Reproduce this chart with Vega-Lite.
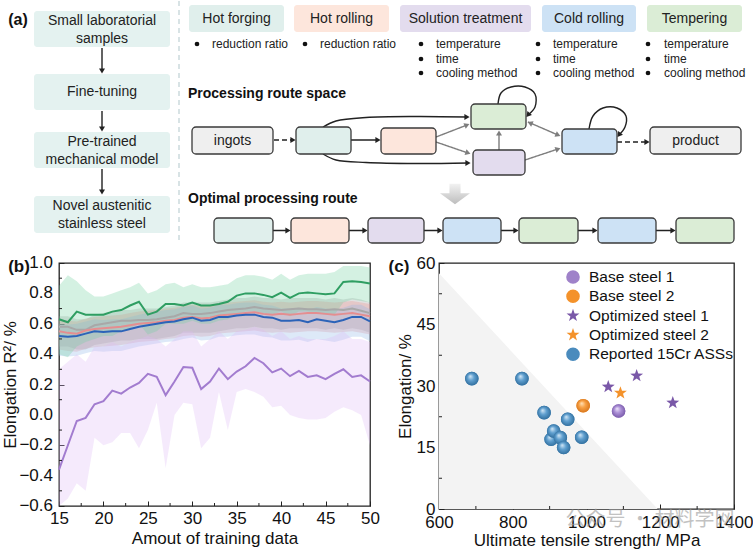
{
"$schema": "https://vega.github.io/schema/vega-lite/v6.json",
"padding": 0,
"background": "white",
"config": {
  "font": "Liberation Sans",
  "view": {"stroke": "#222222", "strokeWidth": 1.3},
  "axis": {"labelFontSize": 17, "titleFontSize": 17, "titleFontWeight": "normal", "labelColor": "#111111", "titleColor": "#111111", "tickColor": "#222222", "domain": false, "grid": false, "tickSize": -5, "labelPadding": 9, "labelFlush": false, "labelOverlap": false}
},
"resolve": {
  "scale": {"color": "independent", "fill": "independent", "stroke": "independent", "shape": "independent", "strokeDash": "independent", "fillOpacity": "independent", "strokeOpacity": "independent", "opacity": "independent", "size": "independent", "angle": "independent"},
  "legend": {"color": "independent", "fill": "independent", "stroke": "independent", "shape": "independent"}
},
"datasets": {
  "sep": [{"x": 178, "y1": 0, "y2": 243}],
  "lbox": [
    {"x1": 33, "x2": 169, "y1": 10, "y2": 46, "cx": 101, "cy": 19.5, "t": "Small laboratorial\nsamples", "s": "left"},
    {"x1": 33, "x2": 169, "y1": 73, "y2": 109, "cx": 101, "cy": 91, "t": "Fine-tuning", "s": "left"},
    {"x1": 33, "x2": 169, "y1": 131, "y2": 167, "cx": 101, "cy": 140.5, "t": "Pre-trained\nmechanical model", "s": "left"},
    {"x1": 33, "x2": 169, "y1": 195, "y2": 232, "cx": 101, "cy": 204.5, "t": "Novel austenitic\nstainless steel", "s": "left"}
  ],
  "hbox": [
    {"x1": 188, "x2": 283, "y1": 4, "y2": 31, "cx": 235.5, "cy": 17.5, "t": "Hot forging", "s": "forging"},
    {"x1": 293, "x2": 388, "y1": 4, "y2": 31, "cx": 340.5, "cy": 17.5, "t": "Hot rolling", "s": "rolling"},
    {"x1": 399, "x2": 530, "y1": 4, "y2": 31, "cx": 464.5, "cy": 17.5, "t": "Solution treatment", "s": "solution"},
    {"x1": 541, "x2": 635, "y1": 4, "y2": 31, "cx": 588, "cy": 17.5, "t": "Cold rolling", "s": "cold"},
    {"x1": 646, "x2": 741, "y1": 4, "y2": 31, "cx": 693.5, "cy": 17.5, "t": "Tempering", "s": "tempering"}
  ],
  "nbox": [
    {"x1": 191, "x2": 272, "y1": 126, "y2": 153, "cx": 231.5, "cy": 139.5, "t": "ingots", "s": "none"},
    {"x1": 295, "x2": 350, "y1": 126, "y2": 153, "s": "forging"},
    {"x1": 380, "x2": 435, "y1": 127, "y2": 153, "s": "rolling"},
    {"x1": 470, "x2": 525, "y1": 103, "y2": 128, "s": "tempering"},
    {"x1": 472, "x2": 524, "y1": 149, "y2": 174, "s": "solution"},
    {"x1": 561, "x2": 616, "y1": 128, "y2": 153, "s": "cold"},
    {"x1": 649, "x2": 740, "y1": 126, "y2": 153, "cx": 694.5, "cy": 139.5, "t": "product", "s": "none"},
    {"x1": 213, "x2": 272, "y1": 217, "y2": 242, "s": "forging"},
    {"x1": 290, "x2": 348, "y1": 217, "y2": 242, "s": "rolling"},
    {"x1": 367, "x2": 423, "y1": 217, "y2": 242, "s": "solution"},
    {"x1": 442, "x2": 500, "y1": 217, "y2": 242, "s": "cold"},
    {"x1": 518, "x2": 577, "y1": 217, "y2": 242, "s": "tempering"},
    {"x1": 597, "x2": 655, "y1": 217, "y2": 242, "s": "cold"},
    {"x1": 675, "x2": 733, "y1": 217, "y2": 242, "s": "tempering"}
  ],
  "segs": [
    {"x1": 101, "y1": 47, "x2": 101, "y2": 70, "k": "b"},
    {"x1": 101, "y1": 110, "x2": 101, "y2": 128, "k": "b"},
    {"x1": 101, "y1": 168, "x2": 101, "y2": 191, "k": "b"},
    {"x1": 273, "y1": 139, "x2": 291, "y2": 139, "k": "d"},
    {"x1": 350, "y1": 139, "x2": 376, "y2": 139, "k": "b"},
    {"x1": 435, "y1": 136, "x2": 466, "y2": 124, "k": "g"},
    {"x1": 435, "y1": 141, "x2": 467, "y2": 152, "k": "g"},
    {"x1": 498, "y1": 149, "x2": 498, "y2": 132, "k": "g"},
    {"x1": 524, "y1": 159, "x2": 557, "y2": 148, "k": "g"},
    {"x1": 527, "y1": 121, "x2": 557, "y2": 134, "k": "g"},
    {"x1": 616, "y1": 141, "x2": 645, "y2": 141, "k": "d"},
    {"x1": 272, "y1": 229.5, "x2": 286, "y2": 229.5, "k": "b"},
    {"x1": 348, "y1": 229.5, "x2": 363, "y2": 229.5, "k": "b"},
    {"x1": 423, "y1": 229.5, "x2": 438, "y2": 229.5, "k": "b"},
    {"x1": 500, "y1": 229.5, "x2": 514, "y2": 229.5, "k": "b"},
    {"x1": 577, "y1": 229.5, "x2": 593, "y2": 229.5, "k": "b"},
    {"x1": 655, "y1": 229.5, "x2": 671, "y2": 229.5, "k": "b"}
  ],
  "heads": [
    {"x": 101, "y": 70, "a": 90, "k": "b"},
    {"x": 101, "y": 128, "a": 90, "k": "b"},
    {"x": 101, "y": 191, "a": 90, "k": "b"},
    {"x": 292, "y": 139, "a": 0, "k": "d"},
    {"x": 377, "y": 139, "a": 0, "k": "b"},
    {"x": 466, "y": 124, "a": 338, "k": "g"},
    {"x": 467, "y": 152, "a": 19, "k": "g"},
    {"x": 498, "y": 132, "a": 270, "k": "g"},
    {"x": 557, "y": 148, "a": 341, "k": "g"},
    {"x": 557, "y": 134, "a": 24, "k": "g"},
    {"x": 529, "y": 122, "a": 204, "k": "g"},
    {"x": 646, "y": 141, "a": 0, "k": "d"},
    {"x": 466, "y": 116, "a": 0, "k": "b"},
    {"x": 467, "y": 162, "a": 0, "k": "b"},
    {"x": 527, "y": 114, "a": 131, "k": "b"},
    {"x": 618, "y": 134, "a": 127, "k": "b"},
    {"x": 287, "y": 229.5, "a": 0, "k": "b"},
    {"x": 364, "y": 229.5, "a": 0, "k": "b"},
    {"x": 439, "y": 229.5, "a": 0, "k": "b"},
    {"x": 515, "y": 229.5, "a": 0, "k": "b"},
    {"x": 594, "y": 229.5, "a": 0, "k": "b"},
    {"x": 672, "y": 229.5, "a": 0, "k": "b"}
  ],
  "curves": [
    {"c": "c1", "i": 0, "x": 322, "y": 126, "k": "b"},
    {"c": "c1", "i": 1, "x": 335, "y": 120, "k": "b"},
    {"c": "c1", "i": 2, "x": 365, "y": 116.5, "k": "b"},
    {"c": "c1", "i": 3, "x": 415, "y": 115.5, "k": "b"},
    {"c": "c1", "i": 4, "x": 466, "y": 116, "k": "b"},
    {"c": "c2", "i": 0, "x": 322, "y": 153, "k": "b"},
    {"c": "c2", "i": 1, "x": 335, "y": 159, "k": "b"},
    {"c": "c2", "i": 2, "x": 365, "y": 161.5, "k": "b"},
    {"c": "c2", "i": 3, "x": 415, "y": 162.5, "k": "b"},
    {"c": "c2", "i": 4, "x": 467, "y": 162, "k": "b"},
    {"c": "c3", "i": 0, "x": 497, "y": 103, "k": "b"},
    {"c": "c3", "i": 1, "x": 500, "y": 92, "k": "b"},
    {"c": "c3", "i": 2, "x": 510, "y": 86, "k": "b"},
    {"c": "c3", "i": 3, "x": 524, "y": 86, "k": "b"},
    {"c": "c3", "i": 4, "x": 534, "y": 93, "k": "b"},
    {"c": "c3", "i": 5, "x": 534, "y": 106, "k": "b"},
    {"c": "c3", "i": 6, "x": 527, "y": 114, "k": "b"},
    {"c": "c4", "i": 0, "x": 588, "y": 128, "k": "b"},
    {"c": "c4", "i": 1, "x": 592, "y": 115, "k": "b"},
    {"c": "c4", "i": 2, "x": 602, "y": 107, "k": "b"},
    {"c": "c4", "i": 3, "x": 616, "y": 107, "k": "b"},
    {"c": "c4", "i": 4, "x": 625, "y": 115, "k": "b"},
    {"c": "c4", "i": 5, "x": 624, "y": 126, "k": "b"},
    {"c": "c4", "i": 6, "x": 618, "y": 134, "k": "b"}
  ],
  "bul": [
    {"bx": 196, "tx": 211, "y": 43, "t": "reduction ratio"},
    {"bx": 304, "tx": 319, "y": 43, "t": "reduction ratio"},
    {"bx": 420, "tx": 435, "y": 43, "t": "temperature"},
    {"bx": 420, "tx": 435, "y": 58, "t": "time"},
    {"bx": 420, "tx": 435, "y": 72, "t": "cooling method"},
    {"bx": 537, "tx": 552, "y": 43, "t": "temperature"},
    {"bx": 537, "tx": 552, "y": 58, "t": "time"},
    {"bx": 537, "tx": 552, "y": 72, "t": "cooling method"},
    {"bx": 647, "tx": 663, "y": 43, "t": "temperature"},
    {"bx": 647, "tx": 663, "y": 58, "t": "time"},
    {"bx": 647, "tx": 663, "y": 72, "t": "cooling method"}
  ],
  "titles": [
    {"x": 187, "y": 93, "t": "Processing route space"},
    {"x": 187, "y": 198, "t": "Optimal processing route"}
  ],
  "tag": [{"x": 17, "y": 19, "t": "(a)"}],
  "big": [{"x": 454, "y": 193}],
  "bylab": [{"v": -0.6}, {"v": -0.4}, {"v": -0.2}, {"v": 0}, {"v": 0.2}, {"v": 0.4}, {"v": 0.6}, {"v": 0.8}, {"v": 1.0}],
  "bxminor": [{"v": 17.5}, {"v": 22.5}, {"v": 27.5}, {"v": 32.5}, {"v": 37.5}, {"v": 42.5}, {"v": 47.5}],
  "byminor": [{"v": -0.5}, {"v": -0.3}, {"v": -0.1}, {"v": 0.1}, {"v": 0.3}, {"v": 0.5}, {"v": 0.7}, {"v": 0.9}],
  "cxminor": [{"v": 700}, {"v": 900}, {"v": 1100}, {"v": 1300}],
  "cyminor": [{"v": 7.5}, {"v": 22.5}, {"v": 37.5}, {"v": 52.5}],
  "perf": [
    {"x":15,"m":"RF","y":0.58,"lo":0.45,"hi":0.65},{"x":16,"m":"RF","y":0.58,"lo":0.45,"hi":0.65},{"x":17,"m":"RF","y":0.56,"lo":0.43,"hi":0.63},{"x":18,"m":"RF","y":0.56,"lo":0.43,"hi":0.63},{"x":19,"m":"RF","y":0.59,"lo":0.46,"hi":0.66},{"x":20,"m":"RF","y":0.60,"lo":0.47,"hi":0.67},{"x":21,"m":"RF","y":0.61,"lo":0.48,"hi":0.68},{"x":22,"m":"RF","y":0.62,"lo":0.49,"hi":0.69},{"x":23,"m":"RF","y":0.62,"lo":0.49,"hi":0.69},{"x":24,"m":"RF","y":0.625,"lo":0.50,"hi":0.70},{"x":25,"m":"RF","y":0.625,"lo":0.50,"hi":0.70},{"x":26,"m":"RF","y":0.63,"lo":0.50,"hi":0.70},{"x":27,"m":"RF","y":0.64,"lo":0.51,"hi":0.71},{"x":28,"m":"RF","y":0.65,"lo":0.52,"hi":0.72},{"x":29,"m":"RF","y":0.67,"lo":0.54,"hi":0.74},{"x":30,"m":"RF","y":0.665,"lo":0.54,"hi":0.74},{"x":31,"m":"RF","y":0.665,"lo":0.54,"hi":0.74},{"x":32,"m":"RF","y":0.67,"lo":0.54,"hi":0.74},{"x":33,"m":"RF","y":0.68,"lo":0.55,"hi":0.75},{"x":34,"m":"RF","y":0.69,"lo":0.56,"hi":0.76},{"x":35,"m":"RF","y":0.695,"lo":0.57,"hi":0.77},{"x":36,"m":"RF","y":0.70,"lo":0.57,"hi":0.77},{"x":37,"m":"RF","y":0.71,"lo":0.58,"hi":0.78},{"x":38,"m":"RF","y":0.70,"lo":0.57,"hi":0.77},{"x":39,"m":"RF","y":0.695,"lo":0.57,"hi":0.77},{"x":40,"m":"RF","y":0.69,"lo":0.56,"hi":0.76},{"x":41,"m":"RF","y":0.695,"lo":0.57,"hi":0.77},{"x":42,"m":"RF","y":0.70,"lo":0.57,"hi":0.77},{"x":43,"m":"RF","y":0.695,"lo":0.57,"hi":0.77},{"x":44,"m":"RF","y":0.695,"lo":0.57,"hi":0.77},{"x":45,"m":"RF","y":0.69,"lo":0.56,"hi":0.76},{"x":46,"m":"RF","y":0.695,"lo":0.57,"hi":0.77},{"x":47,"m":"RF","y":0.69,"lo":0.56,"hi":0.76},{"x":48,"m":"RF","y":0.70,"lo":0.57,"hi":0.77},{"x":49,"m":"RF","y":0.685,"lo":0.56,"hi":0.76},{"x":50,"m":"RF","y":0.67,"lo":0.54,"hi":0.74},
    {"x":15,"m":"GBR","y":0.55,"lo":0.43,"hi":0.63},{"x":16,"m":"GBR","y":0.54,"lo":0.42,"hi":0.62},{"x":17,"m":"GBR","y":0.535,"lo":0.415,"hi":0.615},{"x":18,"m":"GBR","y":0.555,"lo":0.435,"hi":0.635},{"x":19,"m":"GBR","y":0.565,"lo":0.445,"hi":0.645},{"x":20,"m":"GBR","y":0.57,"lo":0.45,"hi":0.65},{"x":21,"m":"GBR","y":0.575,"lo":0.455,"hi":0.655},{"x":22,"m":"GBR","y":0.58,"lo":0.46,"hi":0.66},{"x":23,"m":"GBR","y":0.59,"lo":0.47,"hi":0.67},{"x":24,"m":"GBR","y":0.60,"lo":0.48,"hi":0.68},{"x":25,"m":"GBR","y":0.605,"lo":0.485,"hi":0.685},{"x":26,"m":"GBR","y":0.61,"lo":0.49,"hi":0.69},{"x":27,"m":"GBR","y":0.62,"lo":0.50,"hi":0.70},{"x":28,"m":"GBR","y":0.625,"lo":0.505,"hi":0.705},{"x":29,"m":"GBR","y":0.64,"lo":0.52,"hi":0.72},{"x":30,"m":"GBR","y":0.645,"lo":0.525,"hi":0.725},{"x":31,"m":"GBR","y":0.635,"lo":0.515,"hi":0.715},{"x":32,"m":"GBR","y":0.64,"lo":0.52,"hi":0.72},{"x":33,"m":"GBR","y":0.655,"lo":0.535,"hi":0.735},{"x":34,"m":"GBR","y":0.66,"lo":0.54,"hi":0.74},{"x":35,"m":"GBR","y":0.665,"lo":0.545,"hi":0.745},{"x":36,"m":"GBR","y":0.67,"lo":0.55,"hi":0.75},{"x":37,"m":"GBR","y":0.675,"lo":0.555,"hi":0.755},{"x":38,"m":"GBR","y":0.665,"lo":0.545,"hi":0.745},{"x":39,"m":"GBR","y":0.66,"lo":0.54,"hi":0.74},{"x":40,"m":"GBR","y":0.665,"lo":0.545,"hi":0.745},{"x":41,"m":"GBR","y":0.66,"lo":0.54,"hi":0.74},{"x":42,"m":"GBR","y":0.665,"lo":0.545,"hi":0.745},{"x":43,"m":"GBR","y":0.67,"lo":0.55,"hi":0.75},{"x":44,"m":"GBR","y":0.67,"lo":0.55,"hi":0.75},{"x":45,"m":"GBR","y":0.665,"lo":0.545,"hi":0.745},{"x":46,"m":"GBR","y":0.66,"lo":0.54,"hi":0.74},{"x":47,"m":"GBR","y":0.665,"lo":0.545,"hi":0.745},{"x":48,"m":"GBR","y":0.67,"lo":0.55,"hi":0.75},{"x":49,"m":"GBR","y":0.66,"lo":0.54,"hi":0.74},{"x":50,"m":"GBR","y":0.65,"lo":0.53,"hi":0.73},
    {"x":15,"m":"XGB","y":0.52,"lo":0.39,"hi":0.60},{"x":16,"m":"XGB","y":0.515,"lo":0.385,"hi":0.595},{"x":17,"m":"XGB","y":0.52,"lo":0.39,"hi":0.60},{"x":18,"m":"XGB","y":0.535,"lo":0.405,"hi":0.615},{"x":19,"m":"XGB","y":0.55,"lo":0.42,"hi":0.63},{"x":20,"m":"XGB","y":0.545,"lo":0.415,"hi":0.625},{"x":21,"m":"XGB","y":0.55,"lo":0.42,"hi":0.63},{"x":22,"m":"XGB","y":0.55,"lo":0.42,"hi":0.63},{"x":23,"m":"XGB","y":0.565,"lo":0.435,"hi":0.645},{"x":24,"m":"XGB","y":0.58,"lo":0.45,"hi":0.66},{"x":25,"m":"XGB","y":0.59,"lo":0.46,"hi":0.67},{"x":26,"m":"XGB","y":0.60,"lo":0.47,"hi":0.68},{"x":27,"m":"XGB","y":0.61,"lo":0.48,"hi":0.69},{"x":28,"m":"XGB","y":0.615,"lo":0.485,"hi":0.695},{"x":29,"m":"XGB","y":0.63,"lo":0.50,"hi":0.71},{"x":30,"m":"XGB","y":0.64,"lo":0.51,"hi":0.72},{"x":31,"m":"XGB","y":0.62,"lo":0.49,"hi":0.70},{"x":32,"m":"XGB","y":0.625,"lo":0.495,"hi":0.705},{"x":33,"m":"XGB","y":0.645,"lo":0.515,"hi":0.725},{"x":34,"m":"XGB","y":0.645,"lo":0.515,"hi":0.725},{"x":35,"m":"XGB","y":0.655,"lo":0.525,"hi":0.735},{"x":36,"m":"XGB","y":0.66,"lo":0.53,"hi":0.74},{"x":37,"m":"XGB","y":0.66,"lo":0.53,"hi":0.74},{"x":38,"m":"XGB","y":0.645,"lo":0.515,"hi":0.725},{"x":39,"m":"XGB","y":0.64,"lo":0.51,"hi":0.72},{"x":40,"m":"XGB","y":0.62,"lo":0.49,"hi":0.70},{"x":41,"m":"XGB","y":0.62,"lo":0.49,"hi":0.70},{"x":42,"m":"XGB","y":0.625,"lo":0.495,"hi":0.705},{"x":43,"m":"XGB","y":0.61,"lo":0.48,"hi":0.69},{"x":44,"m":"XGB","y":0.63,"lo":0.50,"hi":0.71},{"x":45,"m":"XGB","y":0.62,"lo":0.49,"hi":0.70},{"x":46,"m":"XGB","y":0.61,"lo":0.48,"hi":0.69},{"x":47,"m":"XGB","y":0.625,"lo":0.495,"hi":0.705},{"x":48,"m":"XGB","y":0.645,"lo":0.515,"hi":0.725},{"x":49,"m":"XGB","y":0.645,"lo":0.515,"hi":0.725},{"x":50,"m":"XGB","y":0.615,"lo":0.485,"hi":0.695},
    {"x":15,"m":"MLP","y":-0.36,"lo":-0.6,"hi":0.3},{"x":16,"m":"MLP","y":-0.2,"lo":-0.55,"hi":0.35},{"x":17,"m":"MLP","y":-0.04,"lo":-0.45,"hi":0.4},{"x":18,"m":"MLP","y":-0.02,"lo":-0.5,"hi":0.35},{"x":19,"m":"MLP","y":0.07,"lo":-0.15,"hi":0.45},{"x":20,"m":"MLP","y":0.09,"lo":-0.2,"hi":0.45},{"x":21,"m":"MLP","y":0.16,"lo":-0.18,"hi":0.48},{"x":22,"m":"MLP","y":0.14,"lo":-0.12,"hi":0.45},{"x":23,"m":"MLP","y":0.18,"lo":-0.12,"hi":0.48},{"x":24,"m":"MLP","y":0.21,"lo":-0.22,"hi":0.5},{"x":25,"m":"MLP","y":0.27,"lo":-0.1,"hi":0.52},{"x":26,"m":"MLP","y":0.25,"lo":0.08,"hi":0.5},{"x":27,"m":"MLP","y":0.13,"lo":-0.35,"hi":0.45},{"x":28,"m":"MLP","y":0.22,"lo":0.0,"hi":0.5},{"x":29,"m":"MLP","y":0.315,"lo":0.08,"hi":0.55},{"x":30,"m":"MLP","y":0.31,"lo":0.07,"hi":0.55},{"x":31,"m":"MLP","y":0.17,"lo":-0.22,"hi":0.45},{"x":32,"m":"MLP","y":0.22,"lo":-0.15,"hi":0.5},{"x":33,"m":"MLP","y":0.305,"lo":0.15,"hi":0.55},{"x":34,"m":"MLP","y":0.235,"lo":-0.1,"hi":0.5},{"x":35,"m":"MLP","y":0.285,"lo":0.15,"hi":0.55},{"x":36,"m":"MLP","y":0.32,"lo":0.17,"hi":0.56},{"x":37,"m":"MLP","y":0.375,"lo":0.15,"hi":0.58},{"x":38,"m":"MLP","y":0.34,"lo":0.12,"hi":0.56},{"x":39,"m":"MLP","y":0.28,"lo":0.05,"hi":0.52},{"x":40,"m":"MLP","y":0.305,"lo":0.06,"hi":0.55},{"x":41,"m":"MLP","y":0.255,"lo":0.0,"hi":0.5},{"x":42,"m":"MLP","y":0.29,"lo":-0.02,"hi":0.52},{"x":43,"m":"MLP","y":0.25,"lo":-0.03,"hi":0.5},{"x":44,"m":"MLP","y":0.26,"lo":-0.03,"hi":0.5},{"x":45,"m":"MLP","y":0.235,"lo":-0.02,"hi":0.5},{"x":46,"m":"MLP","y":0.27,"lo":0.02,"hi":0.52},{"x":47,"m":"MLP","y":0.30,"lo":0.05,"hi":0.55},{"x":48,"m":"MLP","y":0.25,"lo":0.03,"hi":0.5},{"x":49,"m":"MLP","y":0.26,"lo":0.0,"hi":0.5},{"x":50,"m":"MLP","y":0.22,"lo":-0.2,"hi":0.48},
    {"x":15,"m":"Ft-model","y":0.63,"lo":0.40,"hi":0.85},{"x":16,"m":"Ft-model","y":0.61,"lo":0.38,"hi":0.92},{"x":17,"m":"Ft-model","y":0.68,"lo":0.45,"hi":0.88},{"x":18,"m":"Ft-model","y":0.66,"lo":0.48,"hi":0.82},{"x":19,"m":"Ft-model","y":0.66,"lo":0.50,"hi":0.78},{"x":20,"m":"Ft-model","y":0.66,"lo":0.52,"hi":0.78},{"x":21,"m":"Ft-model","y":0.68,"lo":0.52,"hi":0.80},{"x":22,"m":"Ft-model","y":0.69,"lo":0.55,"hi":0.82},{"x":23,"m":"Ft-model","y":0.72,"lo":0.57,"hi":0.84},{"x":24,"m":"Ft-model","y":0.745,"lo":0.60,"hi":0.87},{"x":25,"m":"Ft-model","y":0.66,"lo":0.53,"hi":0.80},{"x":26,"m":"Ft-model","y":0.68,"lo":0.55,"hi":0.82},{"x":27,"m":"Ft-model","y":0.73,"lo":0.60,"hi":0.86},{"x":28,"m":"Ft-model","y":0.73,"lo":0.60,"hi":0.87},{"x":29,"m":"Ft-model","y":0.72,"lo":0.60,"hi":0.84},{"x":30,"m":"Ft-model","y":0.74,"lo":0.62,"hi":0.86},{"x":31,"m":"Ft-model","y":0.72,"lo":0.60,"hi":0.84},{"x":32,"m":"Ft-model","y":0.72,"lo":0.60,"hi":0.84},{"x":33,"m":"Ft-model","y":0.73,"lo":0.62,"hi":0.85},{"x":34,"m":"Ft-model","y":0.745,"lo":0.63,"hi":0.86},{"x":35,"m":"Ft-model","y":0.785,"lo":0.66,"hi":0.90},{"x":36,"m":"Ft-model","y":0.80,"lo":0.68,"hi":0.92},{"x":37,"m":"Ft-model","y":0.80,"lo":0.68,"hi":0.92},{"x":38,"m":"Ft-model","y":0.79,"lo":0.67,"hi":0.91},{"x":39,"m":"Ft-model","y":0.775,"lo":0.66,"hi":0.89},{"x":40,"m":"Ft-model","y":0.805,"lo":0.68,"hi":0.93},{"x":41,"m":"Ft-model","y":0.77,"lo":0.65,"hi":0.89},{"x":42,"m":"Ft-model","y":0.80,"lo":0.68,"hi":0.92},{"x":43,"m":"Ft-model","y":0.805,"lo":0.68,"hi":0.93},{"x":44,"m":"Ft-model","y":0.80,"lo":0.67,"hi":0.93},{"x":45,"m":"Ft-model","y":0.795,"lo":0.66,"hi":0.93},{"x":46,"m":"Ft-model","y":0.80,"lo":0.66,"hi":0.94},{"x":47,"m":"Ft-model","y":0.875,"lo":0.74,"hi":0.98},{"x":48,"m":"Ft-model","y":0.88,"lo":0.76,"hi":0.98},{"x":49,"m":"Ft-model","y":0.875,"lo":0.75,"hi":0.98},{"x":50,"m":"Ft-model","y":0.865,"lo":0.74,"hi":0.97}
  ],
  "steel": [
    {"g": "Reported 15Cr ASSs", "u": 689, "e": 31.8},
    {"g": "Reported 15Cr ASSs", "u": 825, "e": 31.8},
    {"g": "Reported 15Cr ASSs", "u": 885, "e": 23.5},
    {"g": "Reported 15Cr ASSs", "u": 949, "e": 21.9},
    {"g": "Reported 15Cr ASSs", "u": 904, "e": 17.0},
    {"g": "Reported 15Cr ASSs", "u": 911, "e": 19.0},
    {"g": "Reported 15Cr ASSs", "u": 929, "e": 17.4},
    {"g": "Reported 15Cr ASSs", "u": 938, "e": 15.0},
    {"g": "Reported 15Cr ASSs", "u": 987, "e": 17.5},
    {"g": "Base steel 1", "u": 1087, "e": 23.9},
    {"g": "Base steel 2", "u": 991, "e": 25.2},
    {"g": "Optimized steel 1", "u": 1059, "e": 29.8},
    {"g": "Optimized steel 1", "u": 1136, "e": 32.5},
    {"g": "Optimized steel 1", "u": 1234, "e": 25.9},
    {"g": "Optimized steel 2", "u": 1092, "e": 28.3}
  ],
  "tri": [{"u": 600, "e": 57.5}, {"u": 1193, "e": 0}],
  "wm": [{"u": 1172, "e": -2.6, "t": "公众号 · 材料学网"}]
},
"spacing": 8,
"vconcat": [
  {
    "width": 695, "height": 243,
    "view": {"stroke": null},
    "layer": [
      {"data": {"name": "sep"}, "mark": {"type": "rule", "stroke": "#cbdadd", "strokeDash": [5, 4], "strokeWidth": 1.5},
       "encoding": {"x": {"field": "x", "type": "quantitative", "scale": {"domain": [58, 753], "nice": false, "zero": false}, "axis": null},
                    "y": {"field": "y1", "type": "quantitative", "scale": {"domain": [0, 243], "nice": false, "zero": false, "reverse": true}, "axis": null},
                    "y2": {"field": "y2"}}},
      {"data": {"name": "lbox"}, "mark": {"type": "rect", "cornerRadius": 3},
       "encoding": {"x": {"field": "x1", "type": "quantitative", "axis": null}, "x2": {"field": "x2"},
                    "y": {"field": "y1", "type": "quantitative", "axis": null}, "y2": {"field": "y2"},
                    "fill": {"field": "s", "type": "nominal", "scale": {"domain": ["left", "forging", "rolling", "solution", "cold", "tempering", "none"], "range": ["#e4f2f0", "#e0efec", "#fde6dc", "#e3dcee", "#cde2f5", "#dbedd6", "#efefef"]}, "legend": null}}},
      {"data": {"name": "lbox"}, "mark": {"type": "text", "fontSize": 14, "lineBreak": "\n", "lineHeight": 18, "align": "center", "baseline": "middle", "color": "#222222"},
       "encoding": {"x": {"field": "cx", "type": "quantitative", "axis": null}, "y": {"field": "cy", "type": "quantitative", "axis": null}, "text": {"field": "t"}}},
      {"data": {"name": "hbox"}, "mark": {"type": "rect", "cornerRadius": 3},
       "encoding": {"x": {"field": "x1", "type": "quantitative", "axis": null}, "x2": {"field": "x2"},
                    "y": {"field": "y1", "type": "quantitative", "axis": null}, "y2": {"field": "y2"},
                    "fill": {"field": "s", "type": "nominal", "legend": null}}},
      {"data": {"name": "hbox"}, "mark": {"type": "text", "fontSize": 14, "align": "center", "baseline": "middle", "color": "#222222"},
       "encoding": {"x": {"field": "cx", "type": "quantitative", "axis": null}, "y": {"field": "cy", "type": "quantitative", "axis": null}, "text": {"field": "t"}}},
      {"data": {"name": "bul"}, "mark": {"type": "point", "shape": "circle", "filled": true, "size": 22, "color": "#111111", "opacity": 1},
       "encoding": {"x": {"field": "bx", "type": "quantitative", "axis": null}, "y": {"field": "y", "type": "quantitative", "axis": null}}},
      {"data": {"name": "bul"}, "mark": {"type": "text", "fontSize": 12, "align": "left", "baseline": "middle", "color": "#222222"},
       "encoding": {"x": {"field": "tx", "type": "quantitative", "axis": null}, "y": {"field": "y", "type": "quantitative", "axis": null}, "text": {"field": "t"}}},
      {"data": {"name": "titles"}, "mark": {"type": "text", "fontSize": 14, "fontWeight": "bold", "align": "left", "baseline": "middle", "color": "#111111"},
       "encoding": {"x": {"field": "x", "type": "quantitative", "axis": null}, "y": {"field": "y", "type": "quantitative", "axis": null}, "text": {"field": "t"}}},
      {"data": {"name": "tag"}, "mark": {"type": "text", "fontSize": 16, "fontWeight": "bold", "align": "center", "baseline": "middle", "color": "#111111"},
       "encoding": {"x": {"field": "x", "type": "quantitative", "axis": null}, "y": {"field": "y", "type": "quantitative", "axis": null}, "text": {"field": "t"}}},
      {"data": {"name": "curves"}, "mark": {"type": "line", "interpolate": "catmull-rom", "strokeWidth": 1.4},
       "encoding": {"x": {"field": "x", "type": "quantitative", "axis": null}, "y": {"field": "y", "type": "quantitative", "axis": null},
                    "detail": {"field": "c"}, "order": {"field": "i"},
                    "stroke": {"field": "k", "type": "nominal", "scale": {"domain": ["b", "g", "d"], "range": ["#222222", "#7d7d7d", "#222222"]}, "legend": null}}},
      {"data": {"name": "segs"}, "mark": {"type": "rule", "strokeWidth": 1.4},
       "encoding": {"x": {"field": "x1", "type": "quantitative", "axis": null}, "y": {"field": "y1", "type": "quantitative", "axis": null},
                    "x2": {"field": "x2"}, "y2": {"field": "y2"},
                    "stroke": {"field": "k", "type": "nominal", "legend": null},
                    "strokeDash": {"field": "k", "type": "nominal", "scale": {"domain": ["b", "g", "d"], "range": [[1, 0], [1, 0], [5, 3]]}, "legend": null}}},
      {"data": {"name": "heads"}, "mark": {"type": "point", "shape": "triangle-right", "filled": true, "size": 36, "opacity": 1},
       "encoding": {"x": {"field": "x", "type": "quantitative", "axis": null}, "y": {"field": "y", "type": "quantitative", "axis": null},
                    "angle": {"field": "a", "type": "quantitative", "scale": null},
                    "color": {"field": "k", "type": "nominal", "scale": {"domain": ["b", "g", "d"], "range": ["#222222", "#7d7d7d", "#222222"]}, "legend": null}}},
      {"data": {"name": "nbox"}, "mark": {"type": "rect", "cornerRadius": 4, "stroke": "#3a3a3a", "strokeWidth": 1.3},
       "encoding": {"x": {"field": "x1", "type": "quantitative", "axis": null}, "x2": {"field": "x2"},
                    "y": {"field": "y1", "type": "quantitative", "axis": null}, "y2": {"field": "y2"},
                    "fill": {"field": "s", "type": "nominal", "legend": null}}},
      {"data": {"name": "nbox"}, "transform": [{"filter": "isValid(datum.t)"}], "mark": {"type": "text", "fontSize": 14, "align": "center", "baseline": "middle", "color": "#222222"},
       "encoding": {"x": {"field": "cx", "type": "quantitative", "axis": null}, "y": {"field": "cy", "type": "quantitative", "axis": null}, "text": {"field": "t"}}},
      {"data": {"name": "big"}, "mark": {"type": "point", "shape": "M-0.35,-0.65L0.35,-0.65L0.35,-0.05L0.95,-0.05L0,0.65L-0.95,-0.05L-0.35,-0.05Z", "size": 1000, "filled": true, "opacity": 1, "strokeWidth": 0,
         "fill": {"gradient": "linear", "x1": 0, "y1": 0, "x2": 0, "y2": 1, "stops": [{"offset": 0, "color": "#f2f2f2"}, {"offset": 1, "color": "#bdbdbd"}]}},
       "encoding": {"x": {"field": "x", "type": "quantitative", "axis": null}, "y": {"field": "y", "type": "quantitative", "axis": null}}}
    ]
  },
  {
    "resolve": {
      "scale": {"color": "independent", "fill": "independent", "stroke": "independent", "shape": "independent", "fillOpacity": "independent", "strokeOpacity": "independent", "size": "independent"},
      "legend": {"color": "independent", "fill": "independent", "stroke": "independent", "shape": "independent"}
    },
    "hconcat": [
      {
        "width": 311, "height": 243,
        "layer": [
          {"data": {"name": "perf"}, "mark": {"type": "area", "fillOpacity": 0.3},
           "encoding": {
             "x": {"field": "x", "type": "quantitative", "scale": {"domain": [15, 50], "nice": false, "zero": false},
                   "axis": {"values": [15, 20, 25, 30, 35, 40, 45, 50], "title": "Amout of training data", "titlePadding": 4, "labelOverlap": false, "labelFlush": false}},
             "y": {"field": "lo", "type": "quantitative", "scale": {"domain": [-0.6, 1.0], "nice": false, "zero": false},
                   "axis": {"values": [-0.6, -0.4, -0.2, 0, 0.2, 0.4, 0.6, 0.8, 1.0], "labels": false, "title": "Elongation R²/ %", "titlePadding": 39}},
             "y2": {"field": "hi"},
             "fill": {"field": "m", "type": "nominal", "scale": {"domain": ["RF", "GBR", "XGB", "MLP", "Ft-model"], "range": ["#9a9a9a", "#f09090", "#8fb5e8", "#ddb8f5", "#72d1a0"]}, "legend": null}
           }},
          {"data": {"name": "perf"}, "mark": {"type": "line", "strokeWidth": 2},
           "encoding": {
             "x": {"field": "x", "type": "quantitative", "axis": {"values": [15, 20, 25, 30, 35, 40, 45, 50], "title": "Amout of training data", "titlePadding": 4, "labelOverlap": false, "labelFlush": false}},
             "y": {"field": "y", "type": "quantitative", "axis": {"values": [-0.6, -0.4, -0.2, 0, 0.2, 0.4, 0.6, 0.8, 1.0], "labels": false, "title": "Elongation R²/ %", "titlePadding": 39}},
             "color": {"field": "m", "type": "nominal", "scale": {"domain": ["RF", "GBR", "XGB", "MLP", "Ft-model"], "range": ["#a8a8a8", "#e48e90", "#2c63b8", "#a27ccf", "#2f9e62"]}, "legend": null}
           }},
          {"data": {"name": "perf"}, "transform": [{"filter": "false"}], "mark": {"type": "line", "strokeWidth": 2},
           "encoding": {
             "x": {"field": "x", "type": "quantitative"},
             "y": {"field": "y", "type": "quantitative"},
             "stroke": {"field": "m", "type": "nominal", "scale": {"domain": ["RF", "GBR", "XGB", "MLP", "Ft-model"], "range": ["#000000", "#e0474c", "#2a62b8", "#9f73cc", "#2f9e62"]},
                        "legend": {"orient": "none", "legendX": 215, "legendY": 153, "title": null, "symbolType": "stroke", "symbolSize": 1000, "symbolStrokeWidth": 2.5, "labelFontSize": 16, "labelOffset": 4, "rowPadding": 1, "labelColor": "#111111"}}
           }},
          {"data": {"name": "bylab"}, "mark": {"type": "text", "fontSize": 17, "align": "right", "baseline": "middle", "dx": -6, "color": "#111111"},
           "encoding": {"x": {"datum": 15}, "y": {"field": "v", "type": "quantitative"}, "text": {"field": "v", "type": "quantitative", "format": ".1f"}}},
          {"data": {"name": "bxminor"}, "mark": {"type": "tick", "orient": "vertical", "size": 3, "thickness": 1, "color": "#222222", "opacity": 1, "yOffset": -1.5},
           "encoding": {"x": {"field": "v", "type": "quantitative"}, "y": {"datum": -0.6}}},
          {"data": {"name": "byminor"}, "mark": {"type": "tick", "orient": "horizontal", "size": 3, "thickness": 1, "color": "#222222", "opacity": 1, "xOffset": 1.5},
           "encoding": {"y": {"field": "v", "type": "quantitative"}, "x": {"datum": 15}}},
          {"data": {"values": [{"t": "(b)"}]}, "mark": {"type": "text", "fontSize": 17, "fontWeight": "bold", "dx": -40, "dy": 4, "align": "center", "baseline": "middle", "color": "#111111"},
           "encoding": {"x": {"datum": 15}, "y": {"datum": 1.0}, "text": {"field": "t"}}}
        ]
      },
      {
        "width": 295, "height": 246,
        "layer": [
          {"data": {"name": "tri"}, "mark": {"type": "area", "color": "#f3f3f3", "opacity": 1},
           "encoding": {
             "x": {"field": "u", "type": "quantitative", "scale": {"domain": [600, 1400], "nice": false, "zero": false},
                   "axis": {"values": [600, 800, 1000, 1200, 1400], "format": "d", "title": "Ultimate tensile strength/ MPa", "titlePadding": 2, "labelPadding": 10, "labelOverlap": false, "labelFlush": false}},
             "y": {"field": "e", "type": "quantitative", "scale": {"domain": [0, 60], "nice": false},
                   "axis": {"values": [0, 15, 30, 45, 60], "title": "Elongation/ %", "titlePadding": 2, "labelOverlap": false, "labelFlush": false}}
           }},
          {"data": {"name": "cxminor"}, "mark": {"type": "tick", "orient": "vertical", "size": 3, "thickness": 1, "color": "#222222", "opacity": 1, "yOffset": -1.5},
           "encoding": {"x": {"field": "v", "type": "quantitative"}, "y": {"datum": 0}}},
          {"data": {"name": "cyminor"}, "mark": {"type": "tick", "orient": "horizontal", "size": 3, "thickness": 1, "color": "#222222", "opacity": 1, "xOffset": 1.5},
           "encoding": {"y": {"field": "v", "type": "quantitative"}, "x": {"datum": 600}}},
          {"data": {"name": "steel"}, "mark": {"type": "point", "filled": true, "opacity": 1, "stroke": null},
           "encoding": {
             "x": {"field": "u", "type": "quantitative"},
             "y": {"field": "e", "type": "quantitative"},
             "size": {"field": "g", "type": "nominal", "scale": {"domain": ["Base steel 1", "Base steel 2", "Optimized steel 1", "Optimized steel 2", "Reported 15Cr ASSs"], "range": [185, 185, 320, 320, 185]}, "legend": null},
             "color": {"field": "g", "type": "nominal", "scale": {"domain": ["Base steel 1", "Base steel 2", "Optimized steel 1", "Optimized steel 2", "Reported 15Cr ASSs"], "range": ["#9f82c9", "#f4922b", "#7a58a8", "#f4922b", "#4a8bbd"]},
                       "legend": {"orient": "none", "legendX": 126, "legendY": 6, "title": null, "labelFontSize": 15.5, "labelOffset": 8, "rowPadding": 2.3, "symbolSize": 200, "symbolOpacity": 1, "labelColor": "#111111"}},
             "shape": {"field": "g", "type": "nominal", "scale": {"domain": ["Base steel 1", "Base steel 2", "Optimized steel 1", "Optimized steel 2", "Reported 15Cr ASSs"],
                        "range": ["circle", "circle", "M0,-1L0.235,-0.324L0.951,-0.309L0.38,0.124L0.588,0.809L0,0.4L-0.588,0.809L-0.38,0.124L-0.951,-0.309L-0.235,-0.324Z", "M0,-1L0.235,-0.324L0.951,-0.309L0.38,0.124L0.588,0.809L0,0.4L-0.588,0.809L-0.38,0.124L-0.951,-0.309L-0.235,-0.324Z", "circle"]},
                        "legend": {"orient": "none", "legendX": 126, "legendY": 6, "title": null, "labelFontSize": 15.5, "labelOffset": 8, "rowPadding": 2.3, "symbolSize": 200, "symbolOpacity": 1, "labelColor": "#111111"}}
           }},
          {"data": {"name": "steel"}, "transform": [{"filter": "datum.g === 'Reported 15Cr ASSs'"}],
           "mark": {"type": "point", "shape": "circle", "size": 185, "filled": true, "opacity": 1, "strokeWidth": 0,
                    "fill": {"gradient": "radial", "x1": 0.38, "y1": 0.32, "r1": 0, "x2": 0.5, "y2": 0.5, "r2": 0.55, "stops": [{"offset": 0, "color": "#d8eaf7"}, {"offset": 0.45, "color": "#5f9fcf"}, {"offset": 1, "color": "#2d6a99"}]}},
           "encoding": {"x": {"field": "u", "type": "quantitative"}, "y": {"field": "e", "type": "quantitative"}}},
          {"data": {"name": "steel"}, "transform": [{"filter": "datum.g === 'Base steel 1'"}],
           "mark": {"type": "point", "shape": "circle", "size": 185, "filled": true, "opacity": 1, "strokeWidth": 0,
                    "fill": {"gradient": "radial", "x1": 0.38, "y1": 0.32, "r1": 0, "x2": 0.5, "y2": 0.5, "r2": 0.55, "stops": [{"offset": 0, "color": "#efe6fb"}, {"offset": 0.45, "color": "#ab8fd6"}, {"offset": 1, "color": "#7556a6"}]}},
           "encoding": {"x": {"field": "u", "type": "quantitative"}, "y": {"field": "e", "type": "quantitative"}}},
          {"data": {"name": "steel"}, "transform": [{"filter": "datum.g === 'Base steel 2'"}],
           "mark": {"type": "point", "shape": "circle", "size": 185, "filled": true, "opacity": 1, "strokeWidth": 0,
                    "fill": {"gradient": "radial", "x1": 0.38, "y1": 0.32, "r1": 0, "x2": 0.5, "y2": 0.5, "r2": 0.55, "stops": [{"offset": 0, "color": "#ffe3bd"}, {"offset": 0.45, "color": "#f8a043"}, {"offset": 1, "color": "#d4731b"}]}},
           "encoding": {"x": {"field": "u", "type": "quantitative"}, "y": {"field": "e", "type": "quantitative"}}},
          {"data": {"name": "wm"}, "mark": {"type": "text", "fontSize": 20, "font": "Noto Sans CJK SC", "color": "#9a9a9a", "opacity": 0.6, "align": "center", "baseline": "middle"},
           "encoding": {"x": {"field": "u", "type": "quantitative"}, "y": {"field": "e", "type": "quantitative"}, "text": {"field": "t"}}},
          {"data": {"values": [{"t": "(c)"}]}, "mark": {"type": "text", "fontSize": 17, "fontWeight": "bold", "dx": -40, "dy": 4, "align": "center", "baseline": "middle", "color": "#111111"},
           "encoding": {"x": {"datum": 600}, "y": {"datum": 60}, "text": {"field": "t"}}}
        ]
      }
    ],
    "spacing": 69,
    "bounds": "flush"
  }
]
}
